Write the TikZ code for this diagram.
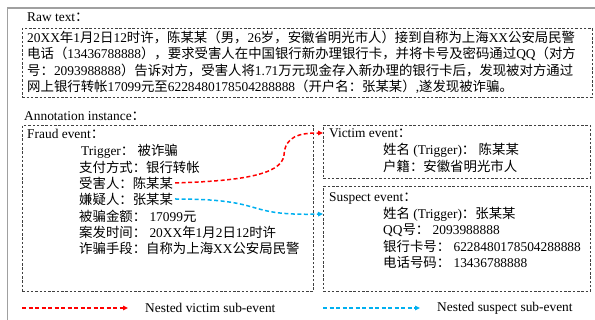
\documentclass[tikz,border=0pt]{standalone}
\usepackage{fontspec}
\setmainfont{Liberation Serif}
\newfontfamily\cjkfont{Noto Sans CJK SC}
\usetikzlibrary{arrows.meta}
\newXeTeXintercharclass\CJKcls
\newcount\cjkc
\def\setcjkrange#1#2{\cjkc=#1\relax\loop\XeTeXcharclass\cjkc=\CJKcls\relax\ifnum\cjkc<#2\relax\advance\cjkc by 1\repeat}
\setcjkrange{"4E00}{"9FFF}
\setcjkrange{"3000}{"303F}
\setcjkrange{"FF00}{"FFEF}
\XeTeXinterchartoks 0 \CJKcls = {\begingroup\cjkfont}
\XeTeXinterchartoks 4095 \CJKcls = {\begingroup\cjkfont}
\XeTeXinterchartoks \CJKcls 0 = {\endgroup}
\XeTeXinterchartoks \CJKcls 4095 = {\endgroup}
\XeTeXinterchartokenstate=1
\definecolor{cyanblue}{RGB}{0,176,240}
\definecolor{framegray}{RGB}{160,160,160}
\begin{document}
\begin{tikzpicture}[x=1pt,y=-1pt,
  txt/.style={anchor=west,inner sep=0pt,font=\fontsize{13.4}{16}\selectfont},
  dbox/.style={draw=black!75,dash pattern=on 2.5pt off 1.8pt,line width=0.7pt,anchor=north west,inner sep=0pt},
  frameline/.style={draw=framegray,line width=1.6pt},
  arr/.style={line width=1.5pt,dash pattern=on 4pt off 2.5pt,-{Triangle[length=5pt,width=4.5pt]}},
  redarr/.style={arr,draw=red},
  bluearr/.style={arr,draw=cyanblue}
]
\useasboundingbox (0,0) rectangle (595,320);
\draw[frameline] (7.5,320) -- (7.5,8) -- (595,8);

% raw text
\node[txt] (rawtitle) at (27,17) {Raw text：};
\node[dbox,minimum width=570pt,minimum height=69pt] (rawbox) at (22,28) {};
\node[txt] (raw1) at (27,37) {20XX年1月2日12时许，陈某某（男，26岁，安徽省明光市人）接到自称为上海XX公安局民警};
\node[txt] (raw2) at (27,53.5) {电话（13436788888），要求受害人在中国银行新办理银行卡，并将卡号及密码通过QQ（对方};
\node[txt] (raw3) at (27,70) {号：2093988888）告诉对方，受害人将1.71万元现金存入新办理的银行卡后，发现被对方通过};
\node[txt] (raw4) at (27,86.5) {网上银行转帐17099元至6228480178504288888（开户名：张某某）,遂发现被诈骗。};

% annotation
\node[txt] (anntitle) at (24,116) {Annotation instance：};
\node[dbox,minimum width=291pt,minimum height=166pt] (fraudbox) at (22,125) {};
\node[txt] (fraudtitle) at (27,134) {Fraud event：};
\node[txt] (f1) at (81,151) {Trigger： 被诈骗};
\node[txt] (f2) at (79,167) {支付方式：银行转帐};
\node[txt] (f3) at (79,183) {受害人：陈某某};
\node[txt] (f4) at (79,199) {嫌疑人：张某某};
\node[txt] (f5) at (79,216) {被骗金额： 17099元};
\node[txt] (f6) at (79,232) {案发时间： 20XX年1月2日12时许};
\node[txt] (f7) at (79,248) {诈骗手段：自称为上海XX公安局民警};

\node[dbox,minimum width=267pt,minimum height=53pt] (victimbox) at (323,125) {};
\node[txt] (victimtitle) at (329,133) {Victim event：};
\node[txt] (v1) at (383,150) {姓名 (Trigger)： 陈某某};
\node[txt] (v2) at (383,166) {户籍：安徽省明光市人};

\node[dbox,minimum width=267pt,minimum height=105pt] (suspectbox) at (323,186) {};
\node[txt] (suspecttitle) at (329,198) {Suspect event：};
\node[txt] (s1) at (383,214) {姓名 (Trigger)：张某某};
\node[txt] (s2) at (383,230) {QQ号： 2093988888};
\node[txt] (s3) at (383,246) {银行卡号： 6228480178504288888};
\node[txt] (s4) at (383,262) {电话号码： 13436788888};

% connectors
\draw[redarr] ([xshift=2pt]f3.east) .. controls (235,181) and (282,176) .. (284,155)
  .. controls (285,136) and (300,133) .. (victimbox.west |- victimtitle);
\draw[bluearr] ([xshift=2pt]f4.east) .. controls (270,199) and (240,216) .. (suspectbox.west |- s1);

% legend
\coordinate (l1s) at (22,308);
\coordinate (l1e) at (128,308);
\draw[redarr] (l1s) -- (l1e);
\node[txt] (l1t) at (145,308) {Nested victim sub-event};
\coordinate (l2s) at (323,308);
\coordinate (l2e) at (420,308);
\draw[bluearr] (l2s) -- (l2e);
\node[txt] (l2t) at (437,308) {Nested suspect sub-event};
\end{tikzpicture}
\end{document}
